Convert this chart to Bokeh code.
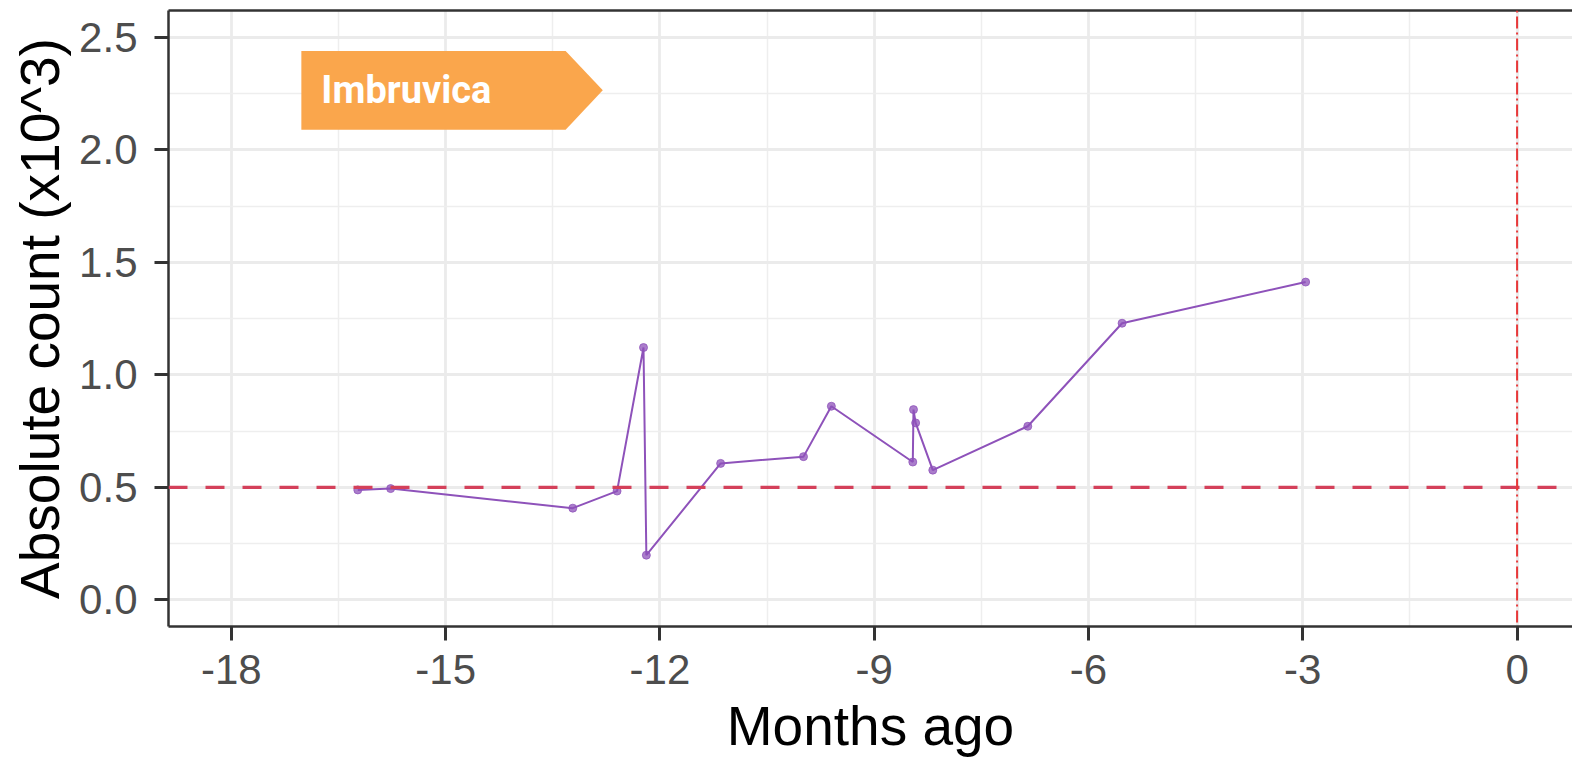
from bokeh.plotting import figure
from bokeh.models import (Range1d, SingleIntervalTicker, LinearAxis, FixedTicker,
                          Span, ColumnDataSource, PrintfTickFormatter)
from bokeh.core.properties import value
from bokeh.embed import file_html
from bokeh.resources import INLINE

# ---- data ----
months_ago = [-16.23, -15.77, -13.22, -12.60, -12.23, -12.19, -11.15, -9.99,
              -9.60, -8.46, -8.45, -8.42, -8.18, -6.85, -5.53, -2.96]
abs_count = [0.489, 0.495, 0.408, 0.484, 1.122, 0.199, 0.607, 0.637,
             0.861, 0.613, 0.846, 0.787, 0.577, 0.772, 1.230, 1.413]
threshold = [0.5]
event_month = [0]
treatment_name = ["Imbruvica"]
treatment_start = [-17.02]
treatment_end = [-12.80]

x_ticks_interval = 3
y_ticks_interval = 0.5

# ---- figure ----
p = figure(width=1572, height=759, output_backend="svg", toolbar_location=None,
           x_range=Range1d(-18.88, 0.776), y_range=Range1d(-0.118, 2.620),
           min_border_left=168, min_border_right=0, min_border_top=10,
           min_border_bottom=131, background_fill_color="white",
           border_fill_color="white")
p.outline_line_color = None

p.xaxis.ticker = SingleIntervalTicker(interval=x_ticks_interval, num_minor_ticks=2)
p.yaxis.ticker = SingleIntervalTicker(interval=y_ticks_interval, num_minor_ticks=2)
p.xaxis.formatter = PrintfTickFormatter(format="%d")
p.yaxis.formatter = PrintfTickFormatter(format="%.1f")

for g in (p.xgrid, p.ygrid):
    g.grid_line_color = "#EBEBEB"
    g.grid_line_width = 2.8
    g.minor_grid_line_color = "#EEEEEE"
    g.minor_grid_line_width = 1.5

for ax in (p.xaxis, p.yaxis):
    ax.axis_line_color = "#333333"
    ax.axis_line_width = 2.5
    ax.major_tick_line_color = "#333333"
    ax.major_tick_line_width = 3
    ax.major_tick_out = 14
    ax.major_tick_in = 0
    ax.minor_tick_line_color = None
    ax.major_label_text_font = "Liberation Sans"
    ax.major_label_text_font_size = "42px"
    ax.major_label_text_color = "#4D4D4D"
    ax.axis_label_text_font = "Liberation Sans"
    ax.axis_label_text_font_size = "55px"
    ax.axis_label_text_font_style = "normal"
    ax.axis_label_text_color = "black"

p.xaxis.axis_label = "Months ago"
p.yaxis.axis_label = "Absolute count (x10^3)"
p.xaxis.major_label_standoff = 14
p.yaxis.major_label_standoff = 17
p.xaxis.axis_label_standoff = 8
p.yaxis.axis_label_standoff = 5

# top border as an axis with no ticks
top_axis = LinearAxis(ticker=FixedTicker(ticks=[]), axis_line_color="#333333",
                      axis_line_width=2.5, major_tick_out=0, major_tick_in=0,
                      minor_tick_out=0, minor_tick_in=0,
                      major_label_text_font_size="0px", major_label_standoff=0)
p.add_layout(top_axis, "above")

# reference lines
p.add_layout(Span(location=threshold[0], dimension="width", line_color="#D4405A",
                  line_width=3.2, line_dash="19 18"))
p.add_layout(Span(location=event_month[0], dimension="height", line_color="#E8393A",
                  line_width=2, line_dash="2 4 12 4"))

# series
src = ColumnDataSource(dict(x=months_ago, y=abs_count))
p.line("x", "y", source=src, line_color="#8E52BA", line_width=2)
p.scatter("x", "y", source=src, size=8, fill_color="#8E52BA", line_color="#8E52BA",
          alpha=0.75)

# treatment arrow banner
band_lo, band_hi = 2.09, 2.44
head = 0.52
xs, ys = [], []
for s, e in zip(treatment_start, treatment_end):
    xs.append([s, e - head, e, e - head, s])
    ys.append([band_hi, band_hi, (band_lo + band_hi) / 2, band_lo, band_lo])
p.patches(xs, ys, fill_color="#FAA64C", line_color=None)
tsrc = ColumnDataSource(dict(x=treatment_start,
                             y=[(band_lo + band_hi) / 2] * len(treatment_start),
                             t=treatment_name))
p.text("x", "y", text="t", source=tsrc, x_offset=20, text_baseline="middle",
       text_align="left", text_color="white", text_font=value("Roboto"),
       text_font_style="bold", text_font_size="38px")

open("out.html", "w").write(file_html(p, INLINE))
